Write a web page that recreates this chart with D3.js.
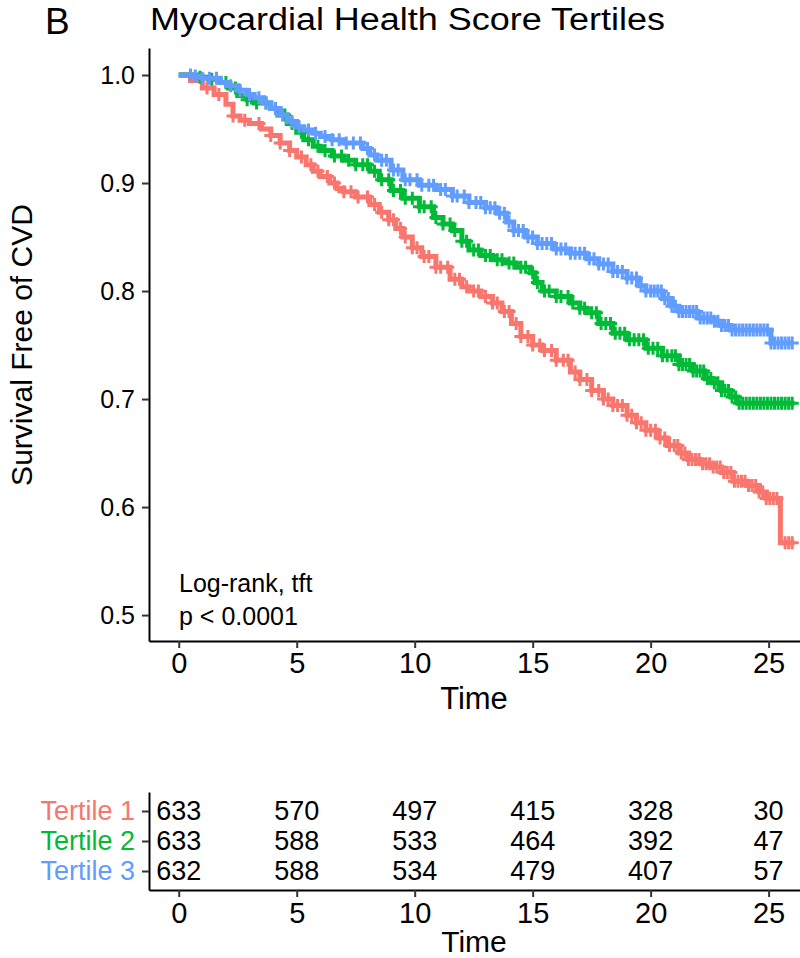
<!DOCTYPE html>
<html>
<head>
<meta charset="utf-8">
<script src="https://cdn.jsdelivr.net/npm/d3@7"></script>
<style>
  html, body { margin: 0; padding: 0; background: #fff; }
  svg { display: block; font-family: "Liberation Sans", Arial, Helvetica, sans-serif; }
</style>
</head>
<body>
<svg id="chart" width="800" height="958"></svg>
<script>
// ---------------- DATA ----------------
const groups = ["Tertile 1", "Tertile 2", "Tertile 3"];
const groupColors = ["#F8766D", "#00BA38", "#619CFF"];

// Kaplan-Meier step points (time, survival)
const t1Time = [0,0.5,1.0,1.5,2.0,2.3,2.6,3.0,3.5,3.9,4.3,4.7,5.0,5.4,5.7,6.0,6.4,6.7,7.0,7.5,8.1,8.5,8.9,9.2,9.5,9.9,10.3,10.9,11.5,12.0,12.3,12.8,13.3,13.7,14.1,14.5,15.0,15.4,16.0,16.6,17.0,17.5,18.0,18.4,19.0,19.4,19.8,20.3,20.7,21.2,21.6,22.1,22.6,23.0,23.5,24.1,24.6,24.9,25.5];
const t1Surv = [1.0,0.995,0.988,0.982,0.973,0.962,0.958,0.955,0.950,0.944,0.937,0.930,0.924,0.917,0.911,0.906,0.900,0.895,0.892,0.887,0.880,0.873,0.866,0.858,0.850,0.840,0.832,0.822,0.811,0.804,0.800,0.795,0.789,0.781,0.770,0.758,0.750,0.745,0.736,0.725,0.718,0.708,0.700,0.694,0.685,0.678,0.671,0.664,0.657,0.650,0.644,0.640,0.637,0.632,0.624,0.620,0.614,0.608,0.567];
const t1End = 26.1;
const t1Censor = [1.2,1.7,2.3,2.8,3.4,3.9,4.3,4.7,5.2,5.6,5.9,6.3,6.6,7.0,7.3,7.6,8.0,8.3,8.6,8.9,9.1,9.4,9.6,9.9,10.1,10.4,10.6,10.9,11.1,11.4,11.7,11.9,12.2,12.5,12.7,13.0,13.3,13.5,13.8,14.0,14.3,14.5,14.8,15.0,15.3,15.5,15.8,16.0,16.3,16.5,16.8,17.0,17.3,17.5,17.8,18.0,18.2,18.4,18.6,18.8,19.0,19.2,19.4,19.6,19.8,20.0,20.2,20.4,20.6,20.8,21.0,21.15,21.3,21.45,21.6,21.75,21.9,22.05,22.2,22.35,22.5,22.65,22.8,22.95,23.1,23.25,23.4,23.55,23.7,23.85,24.0,24.15,24.3,24.45,24.6,24.75,24.9,25.05,25.2,25.35,25.7,25.85,26.0];

const t2Time = [0,0.8,1.3,1.75,2.1,2.5,2.9,3.2,3.9,4.2,4.6,5.0,5.3,5.7,6.0,6.5,7.0,7.5,8.1,8.5,9.0,9.5,10.2,10.8,11.2,11.6,12.0,12.3,12.8,13.3,13.8,14.3,14.9,15.1,15.4,16.0,16.6,17.0,17.3,17.8,18.4,19.0,19.8,20.5,21.2,21.8,22.3,22.6,23.0,23.4,23.7];
const t2Surv = [1.0,0.998,0.996,0.993,0.988,0.981,0.977,0.974,0.969,0.963,0.955,0.947,0.940,0.934,0.930,0.925,0.921,0.917,0.911,0.903,0.893,0.886,0.878,0.868,0.862,0.856,0.846,0.838,0.833,0.829,0.826,0.822,0.817,0.808,0.800,0.795,0.789,0.784,0.780,0.770,0.761,0.755,0.747,0.740,0.732,0.726,0.719,0.715,0.708,0.702,0.696];
const t2End = 26.1;
const t2Censor = [0.9,1.4,2.0,2.4,2.9,3.3,3.7,4.1,4.5,4.8,5.2,5.5,5.9,6.2,6.6,6.9,7.2,7.5,7.8,8.0,8.3,8.6,8.9,9.1,9.4,9.6,9.9,10.2,10.4,10.7,10.9,11.2,11.5,11.7,12.0,12.2,12.5,12.7,13.0,13.2,13.5,13.7,14.0,14.2,14.5,14.7,15.0,15.2,15.5,15.7,16.0,16.2,16.5,16.7,17.0,17.2,17.5,17.7,17.9,18.1,18.3,18.5,18.7,18.9,19.1,19.3,19.5,19.7,19.9,20.1,20.3,20.5,20.7,20.9,21.05,21.2,21.35,21.5,21.65,21.8,21.95,22.1,22.25,22.4,22.55,22.7,22.85,23.0,23.15,23.3,23.45,23.6,23.75,23.9,24.05,24.2,24.35,24.5,24.65,24.8,24.95,25.1,25.25,25.4,25.55,25.7,25.85,26.0];

const t3Time = [0,0.6,1.0,1.75,2.1,2.5,2.9,3.2,3.6,3.9,4.3,4.6,5.0,5.3,5.7,6.0,6.5,7.0,7.8,8.1,8.4,9.0,9.5,10.2,10.9,11.6,12.3,13.0,13.5,13.9,14.2,14.7,15.2,15.9,16.6,17.3,17.8,18.4,19.0,19.5,19.8,20.5,20.9,21.2,22.0,22.6,23.0,23.4,25.1];
const t3Surv = [1.0,0.999,0.997,0.993,0.990,0.986,0.982,0.979,0.974,0.969,0.963,0.957,0.952,0.949,0.946,0.943,0.940,0.937,0.932,0.926,0.921,0.912,0.903,0.898,0.894,0.888,0.882,0.877,0.872,0.864,0.856,0.850,0.844,0.839,0.835,0.830,0.825,0.818,0.812,0.805,0.800,0.793,0.786,0.781,0.775,0.772,0.768,0.764,0.752];
const t3End = 26.0;
const t3Censor = [0.5,0.7,1.0,1.3,1.6,2.2,2.6,3.0,3.4,3.7,4.1,4.4,4.8,5.1,5.5,5.8,6.2,6.5,6.8,7.1,7.4,7.7,8.0,8.3,8.6,8.8,9.1,9.3,9.6,9.8,10.1,10.3,10.6,10.8,11.1,11.3,11.6,11.8,12.1,12.3,12.6,12.8,13.0,13.2,13.4,13.6,13.8,14.0,14.2,14.4,14.6,14.8,15.0,15.2,15.4,15.6,15.8,16.0,16.2,16.4,16.6,16.8,17.0,17.2,17.4,17.6,17.8,18.0,18.2,18.4,18.6,18.8,19.0,19.2,19.4,19.6,19.8,20.0,20.15,20.3,20.45,20.6,20.75,20.9,21.05,21.2,21.35,21.5,21.65,21.8,21.95,22.1,22.25,22.4,22.55,22.7,22.85,23.0,23.15,23.3,23.45,23.6,23.75,23.9,24.05,24.2,24.35,24.5,24.65,24.8,24.95,25.1,25.25,25.4,25.55,25.7,25.85,26.0];

// Axis ticks
const xTicks = [0, 5, 10, 15, 20, 25];
const yTicks = [0.5, 0.6, 0.7, 0.8, 0.9, 1.0];

// Number at risk table
const riskTimes = [0, 5, 10, 15, 20, 25];
const risk1 = [633, 570, 497, 415, 328, 30];
const risk2 = [633, 588, 533, 464, 392, 47];
const risk3 = [632, 588, 534, 479, 407, 57];

// Texts
const panelLetter = "B";
const titleText = "Myocardial Health Score Tertiles";
const yLabel = "Survival Free of CVD";
const xLabel = "Time";
const pvalLines = ["Log-rank, tft", "p < 0.0001"];

// ---------------- DRAWING ----------------
const series = [
  { name: groups[0], color: groupColors[0], time: t1Time, surv: t1Surv, end: t1End, censor: t1Censor },
  { name: groups[1], color: groupColors[1], time: t2Time, surv: t2Surv, end: t2End, censor: t2Censor },
  { name: groups[2], color: groupColors[2], time: t3Time, surv: t3Surv, end: t3End, censor: t3Censor }
];
const riskRows = [risk1, risk2, risk3];

const svg = d3.select("#chart");

const x = d3.scaleLinear().domain([-1.26, 26.33]).range([149, 800]);
const y = d3.scaleLinear().domain([0.476, 1.025]).range([641, 48]);

// Header
svg.append("text").attr("x", 45).attr("y", 34).attr("font-size", 37).attr("fill", "#000").text(panelLetter);
svg.append("text").attr("x", 150).attr("y", 30).attr("font-size", 31)
  .attr("textLength", 515).attr("lengthAdjust", "spacingAndGlyphs")
  .attr("fill", "#000").text(titleText);

// Curves
const plot = svg.append("g");
const line = d3.line().x(d => x(d[0])).y(d => y(d[1])).curve(d3.curveStepAfter);

series.forEach(s => {
  const pts = s.time.map((t, i) => [t, s.surv[i]]);
  pts.push([s.end, s.surv[s.surv.length - 1]]);
  plot.append("path").datum(pts)
    .attr("fill", "none").attr("stroke", s.color).attr("stroke-width", 5)
    .attr("d", line);
  const survAt = t => s.surv[Math.max(0, d3.bisectRight(s.time, t) - 1)];
  const h = 6.5;
  plot.append("path")
    .attr("fill", "none").attr("stroke", s.color).attr("stroke-width", 3)
    .attr("d", s.censor.map(t => {
      const cx = x(t), cy = y(survAt(t));
      return `M${cx - h},${cy}H${cx + h}M${cx},${cy - h}V${cy + h}`;
    }).join(""));
});

// Axes (main)
const xAxis = svg.append("g").attr("transform", "translate(0,641)")
  .call(d3.axisBottom(x).tickValues(xTicks).tickSize(7).tickPadding(4).tickSizeOuter(0).tickFormat(d3.format("d")));
const yAxis = svg.append("g").attr("transform", "translate(149,0)")
  .call(d3.axisLeft(y).tickValues(yTicks).tickSize(7).tickPadding(7).tickSizeOuter(0).tickFormat(d3.format(".1f")));

[xAxis, yAxis].forEach(a => {
  a.select(".domain").attr("stroke", "#000").attr("stroke-width", 2);
  a.selectAll(".tick line").attr("stroke", "#333").attr("stroke-width", 2);
  a.selectAll(".tick text").attr("fill", "#000").attr("font-family", "Liberation Sans, Arial, sans-serif");
});
xAxis.selectAll(".tick text").attr("font-size", 29);
yAxis.selectAll(".tick text").attr("font-size", 25);

svg.append("text").attr("x", 474).attr("y", 709).attr("text-anchor", "middle")
  .attr("font-size", 31).attr("fill", "#000").text(xLabel);
svg.append("text").attr("transform", "translate(32,345) rotate(-90)").attr("text-anchor", "middle")
  .attr("font-size", 30).attr("fill", "#000").text(yLabel);

// p-value
pvalLines.forEach((txt, i) => {
  svg.append("text").attr("x", 179).attr("y", 592 + i * 33).attr("font-size", 25)
    .attr("fill", "#000").text(txt);
});

// ---------------- RISK TABLE ----------------
const yr = d3.scalePoint().domain(groups).range([792, 890]).padding(0.633);

const rxAxis = svg.append("g").attr("transform", "translate(0,890)")
  .call(d3.axisBottom(x).tickValues(xTicks).tickSize(7).tickPadding(5).tickSizeOuter(0).tickFormat(d3.format("d")));
const ryAxis = svg.append("g").attr("transform", "translate(149,0)")
  .call(d3.axisLeft(yr).tickSize(7).tickPadding(7).tickSizeOuter(0));

[rxAxis, ryAxis].forEach(a => {
  a.select(".domain").attr("stroke", "#000").attr("stroke-width", 2);
  a.selectAll(".tick line").attr("stroke", "#333").attr("stroke-width", 2);
  a.selectAll(".tick text").attr("font-family", "Liberation Sans, Arial, sans-serif");
});
rxAxis.selectAll(".tick text").attr("font-size", 29).attr("fill", "#000");
ryAxis.selectAll(".tick text").attr("font-size", 27).attr("fill", (d, i) => groupColors[i]);

const table = svg.append("g");
riskRows.forEach((row, gi) => {
  row.forEach((v, j) => {
    table.append("text")
      .attr("x", x(riskTimes[j])).attr("y", yr(groups[gi])).attr("dy", "0.35em")
      .attr("text-anchor", "middle").attr("font-size", 27).attr("fill", "#000")
      .text(v);
  });
});

svg.append("text").attr("x", 474).attr("y", 952).attr("text-anchor", "middle")
  .attr("font-size", 30).attr("fill", "#000").text(xLabel);
</script>
</body>
</html>
